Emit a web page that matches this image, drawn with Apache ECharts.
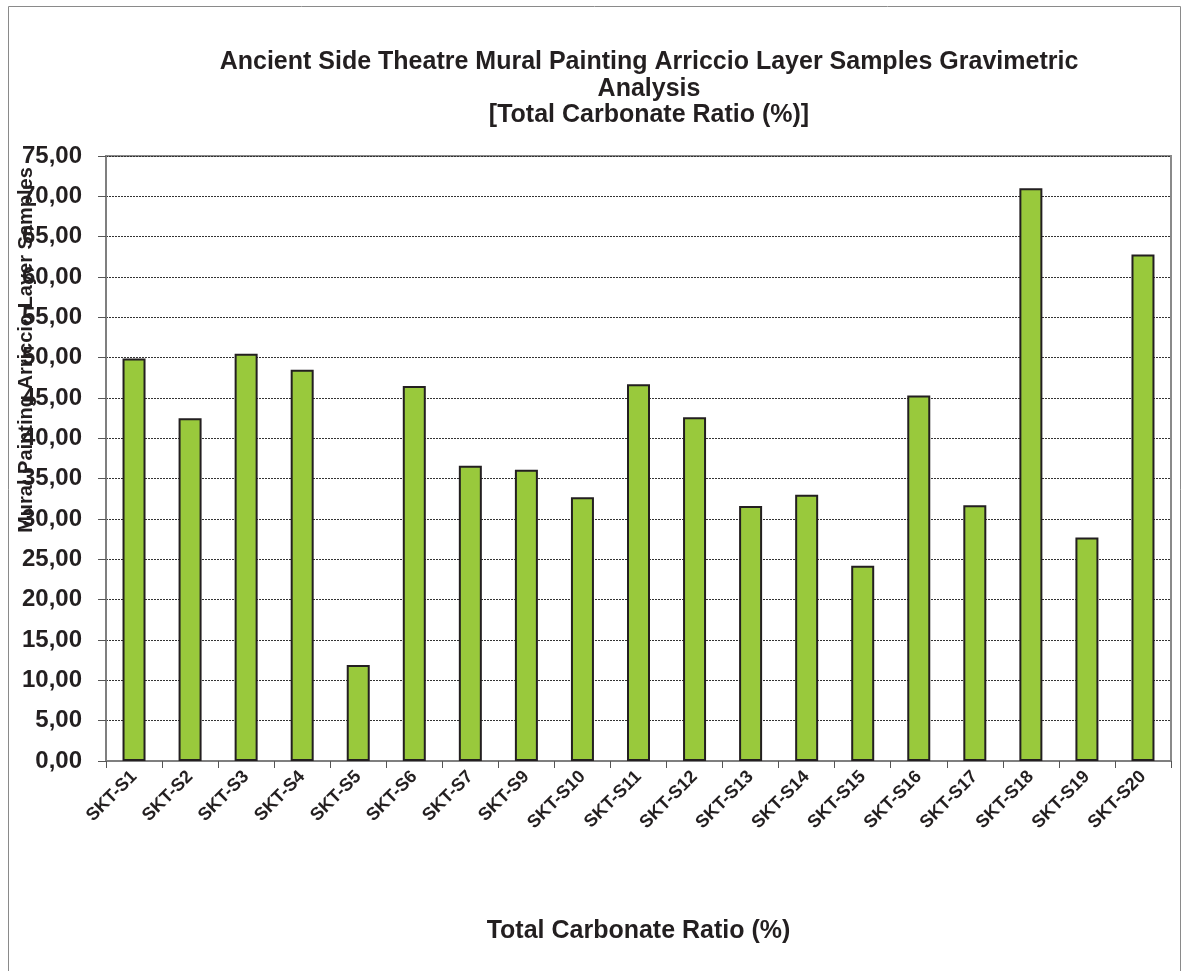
<!DOCTYPE html>
<html>
<head>
<meta charset="utf-8">
<script src="https://cdn.jsdelivr.net/npm/echarts@6/dist/echarts.min.js"></script>
<style>
  html, body { margin: 0; padding: 0; background: #fff; }
  #chart { width: 1184px; height: 971px; }
</style>
</head>
<body>
<div id="chart"></div>
<script>
// Sample identifiers along the x axis
const samples = ['SKT-S1', 'SKT-S2', 'SKT-S3', 'SKT-S4', 'SKT-S5', 'SKT-S6', 'SKT-S7',
  'SKT-S9', 'SKT-S10', 'SKT-S11', 'SKT-S12', 'SKT-S13', 'SKT-S14', 'SKT-S15',
  'SKT-S16', 'SKT-S17', 'SKT-S18', 'SKT-S19', 'SKT-S20'];

// Total carbonate ratio (%) per sample
const carbonateRatio = [49.9, 42.5, 50.5, 48.5, 11.9, 46.5, 36.6, 36.1, 32.7, 46.7,
  42.6, 31.6, 33.0, 24.2, 45.3, 31.7, 71.0, 27.7, 62.8];

// Value axis range
const yMin = 0;
const yMax = 75;
const yStep = 5;

const titleLines = [
  'Ancient Side Theatre Mural Painting Arriccio Layer Samples Gravimetric',
  'Analysis',
  '[Total Carbonate Ratio (%)]'
];
const xTitle = 'Total Carbonate Ratio (%)';
const yTitle = 'Mural Painting Arriccio Layer Samples';

const font = 'Liberation Sans, Arial, sans-serif';
const ink = '#231f20';

const chart = echarts.init(document.getElementById('chart'), null, { renderer: 'canvas' });

chart.setOption({
  backgroundColor: '#ffffff',
  animation: false,
  title: {
    text: titleLines.join('\n'),
    left: 644,
    textAlign: 'center',
    top: 44,
    textStyle: {
      fontFamily: font,
      fontWeight: 'bold',
      fontSize: 25,
      lineHeight: 26.5,
      color: ink
    }
  },
  grid: {
    left: 106,
    right: 13,
    top: 156,
    bottom: 210,
    show: true,
    borderColor: '#8a8a8a',
    borderWidth: 2,
    containLabel: false
  },
  xAxis: {
    type: 'category',
    data: samples,
    boundaryGap: true,
    name: xTitle,
    nameLocation: 'middle',
    nameGap: 158,
    nameTextStyle: {
      fontFamily: font,
      fontWeight: 'bold',
      fontSize: 25,
      color: ink
    },
    axisLine: { show: true, lineStyle: { color: '#7f7f7f', width: 2 } },
    axisTick: { show: true, alignWithLabel: false, length: 7, lineStyle: { color: '#555', width: 1 } },
    axisLabel: {
      interval: 0,
      rotate: 45,
      margin: 13,
      fontFamily: font,
      fontWeight: 'bold',
      fontSize: 18,
      color: ink
    },
    splitLine: { show: false }
  },
  yAxis: {
    type: 'value',
    min: yMin,
    max: yMax,
    interval: yStep,
    axisLine: { show: true, lineStyle: { color: '#7f7f7f', width: 2 } },
    axisTick: { show: true, length: 8, lineStyle: { color: '#555', width: 1 } },
    axisLabel: {
      margin: 24,
      fontFamily: font,
      fontWeight: 'bold',
      fontSize: 24,
      color: ink,
      formatter: v => v.toFixed(2).replace('.', ',')
    },
    splitLine: {
      show: true,
      lineStyle: { color: '#333', type: [2, 1], width: 1 }
    }
  },
  series: [{
    type: 'bar',
    data: carbonateRatio,
    barWidth: 23,
    itemStyle: {
      color: '#99c93c',
      borderColor: '#231f20',
      borderWidth: 2
    }
  }],
  graphic: [
    {
      type: 'rect',
      shape: { x: 8.5, y: 6.5, width: 1172, height: 1000 },
      style: { fill: null, stroke: '#8a8a8a', lineWidth: 1 },
      silent: true,
      z: -1
    },
    {
      type: 'text',
      x: 26,
      y: 350,
      rotation: Math.PI / 2,
      style: {
        text: yTitle,
        fontFamily: font,
        fontWeight: 'bold',
        fontSize: 20,
        fill: ink,
        textAlign: 'center',
        textVerticalAlign: 'middle'
      },
      z: 100
    }
  ]
});
</script>
</body>
</html>
